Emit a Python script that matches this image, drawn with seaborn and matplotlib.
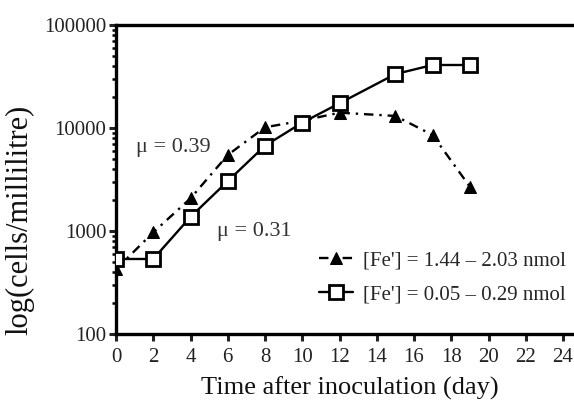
import numpy as np
import pandas as pd
import seaborn as sns
import matplotlib.pyplot as plt

# days after inoculation
days = [0, 2, 4, 6, 8, 10, 12, 15, 17, 19]
# cells per millilitre
high_fe = [425, 970, 2075, 5470, 10160, 11780, 14090, 13090, 8550, 2690]
low_fe = [535, 535, 1370, 3050, 6730, 11270, 17380, 33400, 40900, 40900]
high_label = "[Fe'] = 1.44 \u2013 2.03 nmol"
low_label = "[Fe'] = 0.05 \u2013 0.29 nmol"
x_ticks = list(range(0, 25, 2))
y_ticks = [100, 1000, 10000, 100000]

sns.set_style("ticks")
plt.rcParams['font.family'] = ['Liberation Serif', 'DejaVu Serif']

fig = plt.figure(figsize=(5.74, 4.12), dpi=100)
ax = fig.add_axes([0.2021, 0.1893, 0.7979, 0.75])

df_hi = pd.DataFrame({"day": days, "cells": high_fe})
df_lo = pd.DataFrame({"day": days, "cells": low_fe})

sns.lineplot(data=df_hi, x="day", y="cells", ax=ax, color="black",
             linestyle=(0, (4, 2.5, 1, 2.5)), linewidth=1.7, marker="^",
             markersize=9, markeredgecolor="black", markerfacecolor="black",
             label=high_label, zorder=3)
sns.lineplot(data=df_lo, x="day", y="cells", ax=ax, color="black",
             linestyle="-", linewidth=1.7, marker="s", markersize=10.5,
             markerfacecolor="white", markeredgecolor="black",
             markeredgewidth=2.0, label=low_label, zorder=4)

ax.set_yscale("log")
ax.set_ylim(100, 100000)
ax.set_xlim(0, 24.59)
ax.set_xticks(x_ticks)
ax.set_yticks(y_ticks)
ax.set_yticklabels([str(v) for v in y_ticks])
ax.tick_params(axis="both", which="major", length=5, width=2.2,
               labelsize=15, direction="out", colors="#222222")
ax.tick_params(axis="x", pad=5)
ax.tick_params(axis="y", pad=2)
ax.tick_params(axis="y", which="minor", length=3, width=1.8, direction="out",
               color="black")
ax.xaxis.set_minor_locator(plt.NullLocator())
for t in ax.get_xticklines() + ax.get_yticklines():
    t.set_color("black")

for side in ["left", "bottom", "top"]:
    ax.spines[side].set_linewidth(2.4)
    ax.spines[side].set_color("black")
ax.spines["right"].set_visible(False)

ax.set_xlabel("Time after inoculation (day)", fontsize=19, color="#111111")
ax.xaxis.set_label_coords(0.511, -0.137)
ax.set_ylabel("log(cells/millilitre)", fontsize=22, color="#111111")
ax.yaxis.set_label_coords(-0.178, 0.37)

ax.text(1.1, 5860, "\u03bc = 0.39", fontsize=16, color="#333333")
ax.text(5.4, 900, "\u03bc = 0.31", fontsize=16, color="#333333")

leg = ax.legend(loc="lower right", bbox_to_anchor=(1.01, 0.056), frameon=False,
                fontsize=15, handlelength=1.6, handletextpad=0.5,
                labelspacing=0.7, borderaxespad=0.2)

fig.savefig("out.png", dpi=100)
